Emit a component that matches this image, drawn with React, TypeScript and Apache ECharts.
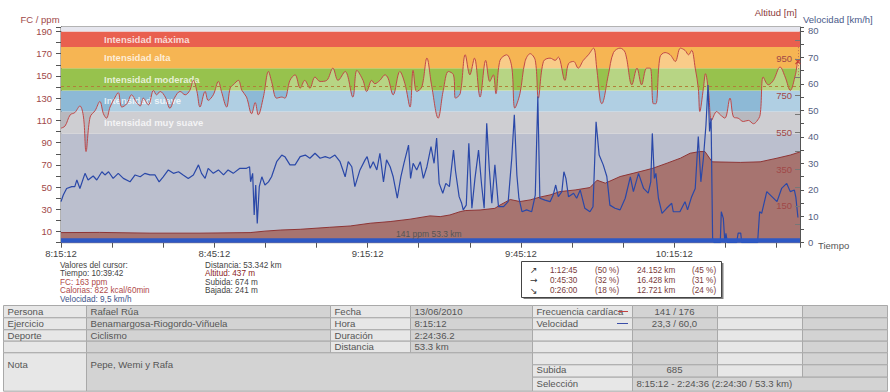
import React, { useEffect, useRef } from 'react';
import * as echarts from 'echarts';

const FONT = "'Liberation Sans', Arial, sans-serif";
const START_SECONDS = 8 * 3600 + 15 * 60 + 12;
const TOTAL_MINUTES = 144.6;

// [minutes since start, value]
const heartRate: [number, number][] = [
  [0, 103], [0.8, 105], [1.8, 115], [2.7, 117], [3.7, 123], [4.4, 113], [4.9, 82], [5.7, 113], [6.7, 119], [7.6, 127],
  [8.3, 116], [8.9, 112], [9.6, 122], [10.6, 131], [11.2, 135], [11.9, 122], [12.9, 125], [13.8, 133], [14.8, 126], [15.5, 123],
  [16.1, 130], [17.1, 124], [18.1, 137], [18.7, 133], [19.4, 136], [20.4, 131], [21.3, 121], [22.3, 131], [23.3, 136], [24.3, 133],
  [25.2, 137], [25.9, 146], [26.6, 136], [27.2, 122], [28.2, 136], [28.8, 128], [29.8, 133], [30.8, 145], [31.4, 136], [32.4, 122],
  [33.1, 139], [33.7, 142], [34.7, 146], [35.4, 137], [36.3, 131], [37.3, 116], [38.0, 126], [38.6, 115], [39.6, 131], [40.6, 154],
  [41.2, 145], [42.2, 130], [43.2, 131], [43.8, 130], [44.8, 146], [45.8, 151], [46.8, 139], [47.7, 146], [48.7, 139], [49.7, 149],
  [50.7, 145], [52.0, 146], [53.2, 157], [54.2, 146], [55.6, 154], [57.1, 131], [57.9, 155], [59.1, 146], [59.8, 136], [60.8, 146],
  [61.4, 143], [62.4, 146], [63.4, 151], [64.0, 148], [65.0, 133], [66.3, 154], [67.3, 143], [68.3, 122], [68.9, 155], [69.6, 136],
  [70.6, 140], [71.6, 166], [72.5, 142], [73.8, 112], [74.8, 137], [75.8, 154], [76.8, 151], [77.2, 130], [78.1, 134], [79.1, 169],
  [80.0, 151], [80.9, 166], [82.0, 131], [83.1, 164], [83.9, 145], [84.6, 151], [85.1, 134], [85.9, 164], [87.2, 169], [88.2, 158],
  [88.8, 121], [89.8, 134], [90.8, 163], [91.8, 170], [92.8, 164], [93.4, 130], [94.4, 163], [95.7, 166], [96.7, 164], [97.3, 167],
  [98.6, 146], [99.3, 161], [100.3, 163], [101.2, 157], [102.2, 164], [103.2, 169], [104.2, 175], [104.8, 158], [105.5, 128], [105.8, 125],
  [107.1, 151], [108.1, 171], [109.4, 175], [110.4, 171], [111.7, 142], [112.7, 157], [113.6, 142], [114.6, 157], [115.3, 157], [115.9, 125],
  [116.4, 125], [117.2, 167], [118.2, 171], [119.2, 169], [120.2, 163], [121.2, 175], [122.1, 173], [122.8, 169], [123.4, 173], [124.1, 157],
  [124.7, 139], [125.0, 118], [125.7, 139], [126.1, 152], [126.7, 136], [127.3, 110], [128.3, 118], [129.0, 115], [129.9, 112], [130.9, 130],
  [131.6, 113], [132.5, 112], [133.5, 109], [134.5, 110], [135.5, 107], [136.1, 109], [136.8, 115], [137.4, 149], [138.4, 142], [139.4, 146],
  [140.7, 158], [141.7, 149], [142.7, 137], [143.7, 151], [144.3, 164], [144.6, 163],
];

const speed: [number, number][] = [
  [0, 15.5], [0.45, 18], [1.1, 20.5], [2.1, 21.2], [2.7, 21.2], [3.1, 23.7], [3.7, 20.5], [4.7, 26.2], [5.3, 23.7], [6.3, 25.2],
  [7.0, 23.7], [8.0, 26.8], [8.6, 25.6], [9.3, 26.8], [10.2, 24.3], [11.2, 26.2], [12.2, 24.3], [13.5, 23], [14.5, 25.6], [15.5, 24.9],
  [16.4, 26.2], [17.4, 25.6], [18.4, 25.6], [19.2, 23], [20.0, 24.9], [21.0, 27.5], [22.0, 26.2], [23.0, 26.8], [23.9, 25.6], [24.9, 24.3],
  [25.9, 25.6], [26.9, 29.4], [27.5, 26.2], [28.2, 24.3], [28.8, 28.1], [29.8, 26.2], [30.8, 27.5], [31.8, 25.6], [32.7, 27.5], [33.7, 26.2],
  [35.0, 28.1], [36.3, 28.1], [36.9, 28.7], [37.1, 23], [37.5, 26.2], [37.8, 10.5], [38.1, 21.8], [38.4, 7.3], [38.8, 21.2], [39.3, 24.9],
  [39.9, 21.8], [40.6, 23], [41.2, 24.9], [42.2, 30.6], [43.2, 33.1], [43.8, 32.5], [44.8, 29.4], [45.8, 29.4], [46.8, 32.5], [47.8, 33.1],
  [48.7, 31.9], [49.7, 33.8], [50.7, 31.9], [51.7, 32.5], [52.6, 31.9], [53.6, 33.1], [54.6, 30.6], [55.6, 24.9], [56.2, 30.6], [56.9, 28.7],
  [57.5, 21.2], [58.5, 27.5], [59.5, 31.3], [59.9, 32.5], [60.5, 28.1], [61.1, 30.6], [61.8, 27.5], [62.4, 33.8], [63.1, 23], [63.7, 31.3],
  [64.4, 28.7], [65.0, 24.9], [65.8, 16.8], [66.5, 24.9], [67.1, 30], [68.0, 36.9], [68.4, 24.3], [68.9, 30], [69.6, 27.5], [70.3, 30.6],
  [70.9, 24.3], [71.6, 28.7], [72.4, 36.3], [73.0, 30], [73.5, 39.5], [74.0, 22.4], [74.7, 18.7], [75.3, 22.4], [76.0, 21.2], [76.8, 35],
  [77.2, 27], [77.9, 17.4], [78.4, 14.9], [78.7, 12.4], [79.3, 14.2], [79.8, 37.6], [80.4, 13], [81.0, 24.3], [81.7, 35], [82.3, 21.8],
  [82.8, 13], [83.3, 45.1], [83.8, 28.1], [84.3, 14.9], [84.9, 29.4], [85.6, 13.6], [86.6, 13.6], [87.5, 15.5], [88.2, 31.9], [88.7, 48.3],
  [89.2, 25.6], [89.6, 16.8], [90.2, 11.7], [91.1, 12.4], [92.1, 11.7], [92.8, 18], [93.3, 55.2], [93.7, 16.8], [94.7, 16.1], [95.7, 15.5],
  [96.3, 18], [96.8, 21.8], [97.3, 17.4], [98.0, 19.3], [98.4, 26.8], [98.8, 24.3], [99.3, 17.4], [100.3, 18.7], [100.9, 16.8], [101.6, 19.9],
  [102.5, 13], [103.5, 11.7], [104.1, 13.6], [104.7, 45.7], [105.3, 33.1], [106.1, 29.4], [106.8, 25], [107.4, 14.2], [108.4, 13], [109.4, 12.4],
  [110.4, 16.8], [111.4, 24.9], [112.0, 19.3], [113.0, 26.2], [114.0, 20.5], [114.9, 18.7], [115.4, 23], [115.7, 41.3], [116.1, 24.3], [116.4, 26.2],
  [116.9, 16.8], [117.6, 11.1], [118.5, 13], [119.5, 14.9], [119.8, 11.7], [121.1, 11.7], [122.1, 15.5], [122.6, 12.4], [123.4, 17.4], [124.1, 20.5],
  [124.7, 40.1], [125.2, 23], [125.7, 31.9], [126.2, 44.5], [126.6, 59.6], [126.9, 42], [127.2, 47], [127.5, 1.7], [127.8, 0], [129.0, 0],
  [129.2, 11.7], [129.6, 9.2], [129.9, 0], [130.1, 3.5], [130.4, 0], [132.2, 0], [132.5, 3.6], [133.0, 3.6], [133.2, 0], [136.3, 0],
  [136.7, 11.7], [137.1, 11.1], [138.1, 19.3], [139.1, 17.4], [140.1, 15.5], [141.0, 20.5], [142.0, 22.4], [142.7, 19.3], [143.5, 19.9], [143.8, 17],
  [144.2, 9.5],
];

const altitude: [number, number][] = [
  [0, 5], [7.6, 6], [17.4, 2], [27.2, 2], [37.0, 5], [39.9, 13], [43.0, 19], [46.8, 23], [52.6, 34], [56.6, 41],
  [60.5, 56], [64.4, 65], [68.3, 78], [72.2, 96], [74.2, 92], [76.1, 101], [78.1, 119], [79.1, 125], [82.0, 128], [84.9, 137],
  [85.9, 155], [87.9, 185], [89.8, 174], [91.8, 183], [93.7, 198], [95.7, 210], [97.6, 228], [100.6, 237], [103.5, 250], [104.9, 290],
  [106.5, 274], [109.4, 310], [113.3, 337], [115.8, 355], [118.6, 383], [121.2, 410], [123.1, 437], [125.0, 446], [126.0, 446], [127.4, 390],
  [132.9, 387], [136.8, 390], [140.1, 410], [142.7, 427], [144.6, 444],
];

const altitudeLabels = [150, 350, 550, 750, 950];
const altitudeTicks = [50, 150, 250, 350, 450, 550, 650, 750, 850, 950, 1050];

const averageHeartRate = 141;
const cursorPoint: [number, number] = [144.2, 163];
const cursorLine: [number, number] = [148, 177];
const selectionRange: [number, number] = [0, 144.6];

const zoneBounds = [0, 98, 118, 137, 157, 176, 190, 194];
const zoneNames = ['', 'Intensidad muy suave', 'Intensidad suave', 'Intensidad moderada', 'Intensidad alta', 'Intensidad máxima', ''];
const zoneColors = ['#9da2b8', '#b8b8be', '#8db9d6', '#97c24d', '#f6b553', '#e9604f', '#e6e6ee'];

const cursorLeft: [string, string][] = [
  ['Valores del cursor:', '#444'], ['Tiempo: 10:39:42', '#444'], ['FC: 163 ppm', '#b04a4a'],
  ['Calorias: 822 kcal/60min', '#b04a4a'], ['Velocidad: 9,5 km/h', '#40548a'],
];
const cursorRight: [string, string][] = [
  ['Distancia: 53.342 km', '#444'], ['Altitud: 437 m', '#8b2525'], ['Subida: 674 m', '#444'], ['Bajada: 241 m', '#444'],
];

const splitRows = [
  ['↗', '1:12:45', '(50 %)', '24.152 km', '(45 %)'],
  ['→', '0:45:30', '(32 %)', '16.428 km', '(31 %)'],
  ['↘', '0:26:00', '(18 %)', '12.721 km', '(24 %)'],
];

const tableTop = [
  ['Persona', 'Rafael Rúa', 'Fecha', '13/06/2010', 'Frecuencia cardíaca', '141 / 176', '', ''],
  ['Ejercicio', 'Benamargosa-Riogordo-Viñuela', 'Hora', '8:15:12', 'Velocidad', '23,3 / 60,0', '', ''],
  ['Deporte', 'Ciclismo', 'Duración', '2:24:36.2', '', '', '', ''],
  ['', '', 'Distancia', '53.3 km', '', '', '', ''],
];
const noteLabel = 'Nota';
const noteText = 'Pepe, Wemi y Rafa';
const climbLabel = 'Subida';
const climbValue = '685';
const selectionLabel = 'Selección';
const selectionText = '8:15:12 - 2:24:36 (2:24:30 / 53.3 km)';

function fmtTime(min: number) {
  const s = Math.round(START_SECONDS + min * 60);
  const h = Math.floor(s / 3600);
  const m = Math.floor((s % 3600) / 60);
  const ss = s % 60;
  return `${h}:${String(m).padStart(2, '0')}:${String(ss).padStart(2, '0')}`;
}

function buildGraphics() {
  const g: any[] = [];
  const text = (x: number, y: number, t: string, fill: string, size = 9.5, align = 'left', extra: any = {}) => {
    g.push({
      type: 'text', x, y, silent: true, z: 100,
      style: {
        text: t, fill, fontSize: size, fontFamily: FONT,
        align, verticalAlign: 'middle', textAlign: align, textVerticalAlign: 'middle', ...extra,
      },
    });
  };
  const rect = (x: number, y: number, w: number, h: number, fill: string, stroke?: string, z = 90) => {
    g.push({ type: 'rect', silent: true, z, shape: { x, y, width: w, height: h }, style: { fill, stroke: stroke || 'none', lineWidth: 1 } });
  };
  const line = (x1: number, y1: number, x2: number, y2: number, stroke: string, w = 1) => {
    g.push({ type: 'line', silent: true, z: 101, shape: { x1, y1, x2, y2 }, style: { stroke, lineWidth: w } });
  };

  // axis titles
  text(20.5, 19, 'FC / ppm', '#a04848');
  text(797, 12.5, 'Altitud [m]', '#8b3a3a', 9.5, 'right');
  text(803, 19.5, 'Velocidad [km/h]', '#4a5a8a');
  text(818, 245.5, 'Tiempo', '#555');
  text(396, 233.5, `${averageHeartRate} ppm 53.3 km`, '#555', 8.5);

  // cursor values
  cursorLeft.forEach(([t, c], i) => text(60, 265 + i * 8.6, t, c, 8.2));
  cursorRight.forEach(([t, c], i) => text(205, 265 + i * 8.6, t, c, 8.2));

  // split summary box
  rect(523.5, 263, 200, 36, '#808080', undefined, 88);
  rect(521.5, 261.5, 200, 36, '#ffffff', '#444', 89);
  const colsX = [530, 550, 595, 637, 692];
  splitRows.forEach((row, i) => {
    const y = 270 + i * 10.3;
    row.forEach((t, j) => {
      if (j === 0) text(colsX[j], y, t, '#333', 9, 'left', { fontFamily: "'DejaVu Sans', sans-serif" });
      else text(colsX[j], y, t, '#7a3a3a', 8.2);
    });
  });

  // info table
  const colX = [3, 86, 330, 410, 532, 632, 717, 802, 887];
  const rowY = [305, 317.3, 329.3, 340.7, 352.3, 364.3, 376.7, 390.7];
  const LIGHT = '#e7e7e7';
  const DARK = '#d3d3d3';
  const STROKE = '#a9a9a9';
  const cell = (c0: number, c1: number, r0: number, r1: number, fill: string) =>
    rect(colX[c0] + 0.5, rowY[r0] + 0.5, colX[c1] - colX[c0], rowY[r1] - rowY[r0], fill, STROKE);
  const tc = '#555';
  tableTop.forEach((row, r) => {
    row.forEach((t, c) => {
      cell(c, c + 1, r, r + 1, c % 2 ? DARK : LIGHT);
      const y = (rowY[r] + rowY[r + 1]) / 2;
      if (!t) return;
      if (c === 5) text((colX[5] + colX[6]) / 2, y, t, tc, 9.6, 'center');
      else text(colX[c] + 4.5, y, t, tc, 9.6);
    });
  });
  cell(0, 1, 4, 7, LIGHT);
  cell(1, 4, 4, 7, DARK);
  for (let r = 4; r < 6; r++) for (let c = 4; c < 8; c++) cell(c, c + 1, r, r + 1, c % 2 ? DARK : LIGHT);
  cell(4, 5, 6, 7, LIGHT);
  cell(5, 8, 6, 7, DARK);
  text(colX[0] + 4.5, 364, noteLabel, tc, 9.6);
  text(colX[1] + 4.5, 364, noteText, tc, 9.6);
  text(colX[4] + 4.5, 369.5, climbLabel, tc, 9.6);
  text((colX[5] + colX[6]) / 2, 369.5, climbValue, tc, 9.6, 'center');
  text(colX[4] + 4.5, 383, selectionLabel, tc, 9.6);
  text(colX[5] + 4.5, 383, selectionText, tc, 9.6);
  // legend swatches
  line(618, 311.5, 628, 311.5, '#c04040', 1);
  line(617, 323.5, 628, 323.5, '#3a4ea8', 1);
  return g;
}

function buildOption() {
  const zoneAreas = zoneColors.map((color, i) => [
    {
      yAxis: zoneBounds[i],
      itemStyle: { color },
      label: {
        show: !!zoneNames[i], position: 'insideLeft', distance: 43, formatter: zoneNames[i] || ' ',
        color: 'rgba(255,255,255,0.78)', fontSize: 9.5, fontWeight: 'bold', fontFamily: FONT,
      },
    },
    { yAxis: zoneBounds[i + 1] },
  ]);

  return {
    animation: false,
    backgroundColor: '#ffffff',
    grid: {
      left: 61, right: 90, top: 27, bottom: 149.3, show: true, borderColor: '#666', borderWidth: 1,
      backgroundColor: 'transparent', outerBoundsMode: 'none',
    },
    xAxis: {
      type: 'value', min: 0, max: TOTAL_MINUTES, interval: 10,
      axisLine: { show: true, lineStyle: { color: '#555' } },
      axisTick: { show: true, length: 5, lineStyle: { color: '#555' } },
      axisLabel: {
        formatter: (v: number) => (Math.abs(v % 30) < 1e-6 ? fmtTime(v) : ''),
        color: '#444', fontSize: 9.5, fontFamily: FONT, margin: 6,
      },
      splitLine: { show: false },
    },
    yAxis: [
      {
        type: 'value', position: 'left', min: 0, max: 194, interval: 10,
        axisLine: { show: true, lineStyle: { color: '#555' } },
        axisTick: { show: true, length: 5, lineStyle: { color: '#555' } },
        axisLabel: {
          formatter: (v: number) => (v % 20 === 10 ? String(v) : ''),
          color: '#a04848', fontSize: 9.5, fontFamily: FONT, margin: 9,
        },
        splitLine: { show: false },
      },
      {
        type: 'value', position: 'right', min: 0, max: 81.5, interval: 5,
        axisLine: { show: true, lineStyle: { color: '#555' } },
        axisTick: { show: true, length: 4, lineStyle: { color: '#555' } },
        axisLabel: {
          formatter: (v: number) => (v % 10 === 0 ? String(v) : ''),
          color: '#55607f', fontSize: 9.5, fontFamily: FONT, margin: 8,
        },
        splitLine: { show: false },
      },
      {
        type: 'value', position: 'right', offset: 0, min: -50, max: 1124, z: 20,
        axisLine: { show: false },
        axisTick: { show: true, inside: true, length: 5, customValues: altitudeTicks, lineStyle: { color: '#777' } },
        axisLabel: {
          inside: true, customValues: altitudeLabels,
          formatter: (v: number) => String(Math.round(v)),
          color: '#a04848', fontSize: 9.5, fontFamily: FONT, margin: 8,
        },
        splitLine: { show: false },
      },
    ],
    series: [
      {
        name: 'zones', type: 'line', yAxisIndex: 0, data: [[0, 0]], symbol: 'none', silent: true,
        lineStyle: { width: 0, opacity: 0 }, z: 1,
        markArea: { silent: true, data: zoneAreas },
      },
      {
        name: 'FC', type: 'line', yAxisIndex: 0, data: heartRate, symbol: 'none', smooth: 0.35, z: 2,
        lineStyle: { color: '#c04848', width: 1 },
        areaStyle: { color: 'rgba(255,255,255,0.45)' },
        markLine: {
          silent: true, symbol: 'none', label: { show: false },
          lineStyle: { type: [3, 3], color: '#b0803a', width: 1 },
          data: [{ yAxis: averageHeartRate }],
        },
      },
      {
        name: 'Altitud', type: 'line', yAxisIndex: 2, data: altitude, symbol: 'none', z: 3,
        lineStyle: { color: '#8e3535', width: 1 },
        areaStyle: { color: '#a77470', opacity: 1, origin: 'start' },
      },
      {
        name: 'Velocidad', type: 'line', yAxisIndex: 1, data: speed, symbol: 'none', z: 4,
        lineStyle: { color: '#2a48a8', width: 1.2 },
      },
      {
        name: 'Selección', type: 'line', yAxisIndex: 1, symbol: 'none', z: 5, silent: true,
        data: [[selectionRange[0], 0.85], [selectionRange[1], 0.85]],
        lineStyle: { color: '#2d58c4', width: 4.4 },
      },
      {
        name: 'cursor', type: 'scatter', yAxisIndex: 0, data: [cursorPoint], z: 6, silent: true,
        symbol: 'path://M0,0L10,10M10,0L0,10', symbolSize: 5,
        itemStyle: { color: 'none', borderColor: '#c03030', borderWidth: 1.2 },
        markLine: {
          silent: true, symbol: 'none', label: { show: false },
          lineStyle: { type: [1, 2], color: '#c07050', width: 1 },
          data: [[{ coord: [cursorPoint[0], cursorLine[0]] }, { coord: [cursorPoint[0], cursorLine[1]] }]],
        },
      },
    ],
    graphic: buildGraphics(),
  };
}

export default function App() {
  const ref = useRef<HTMLDivElement>(null);
  useEffect(() => {
    if (!ref.current) return;
    const chart = echarts.init(ref.current, null, { renderer: 'svg', width: 890, height: 392 });
    chart.setOption(buildOption() as any);
    return () => chart.dispose();
  }, []);
  return (
    <div
      ref={ref}
      style={{ position: 'absolute', left: 0, top: 0, width: 890, height: 392, background: '#ffffff' }}
    />
  );
}
